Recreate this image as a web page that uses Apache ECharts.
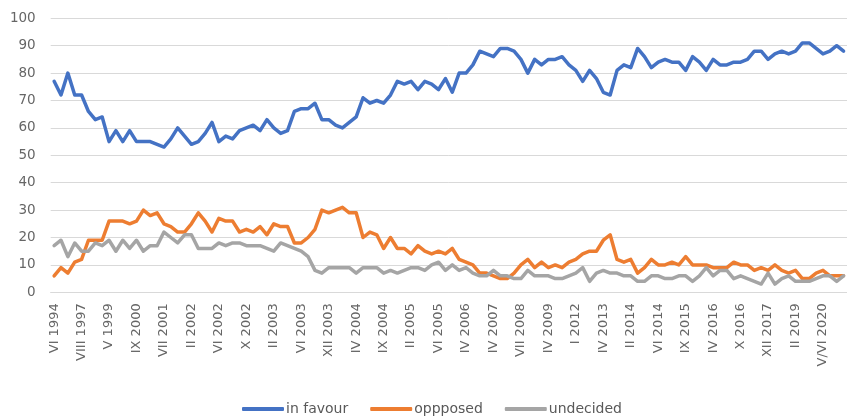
<!DOCTYPE html>
<html>
<head>
<meta charset="utf-8">
<script src="https://cdn.jsdelivr.net/npm/echarts@6/dist/echarts.min.js"></script>
<style>
html,body{margin:0;padding:0;background:#fff;}
#chart{width:847px;height:417px;}
</style>
</head>
<body>
<div id="chart"></div>
<script>
var tickLabels = ["VI 1994","VIII 1997","V 1999","IX 2000","VII 2001","II 2002","VI 2002","X 2002","II 2003",
  "VI 2003","XII 2003","IV 2004","IX 2004","II 2005","VI 2005","IV 2006","IV 2007","VII 2008","IV 2009",
  "I 2012","IV 2013","II 2014","VI 2014","IX 2015","IV 2016","X 2016","XII 2017","II 2019","V/VI 2020"];

var inFavour = [77,72,80,72,72,66,63,64,55,59,55,59,55,55,55,54,53,56,60,57,54,55,58,62,
  55,57,56,59,60,61,59,63,60,58,59,66,67,67,69,63,63,61,60,62,64,71,
  69,70,69,72,77,76,77,74,77,76,74,78,73,80,80,83,88,87,86,89,89,88,85,
  80,85,83,85,85,86,83,81,77,81,78,73,72,81,83,82,89,86,82,84,85,84,84,
  81,86,84,81,85,83,83,84,84,85,88,88,85,87,88,87,88,91,91,89,87,88,90,88];

var opposed = [6,9,7,11,12,19,19,19,26,26,26,25,26,30,28,29,25,24,22,22,25,29,26,22,
  27,26,26,22,23,22,24,21,25,24,24,18,18,20,23,30,29,30,31,29,29,20,
  22,21,16,20,16,16,14,17,15,14,15,14,16,12,11,10,7,7,6,5,5,7,10,
  12,9,11,9,10,9,11,12,14,15,15,19,21,12,11,12,7,9,12,10,10,11,10,
  13,10,10,10,9,9,9,11,10,10,8,9,8,10,8,7,8,5,5,7,8,6,6,6];

var undecided = [17,19,13,18,15,15,18,17,19,15,19,16,19,15,17,17,22,20,18,21,21,16,16,16,
  18,17,18,18,17,17,17,16,15,18,17,16,15,13,8,7,9,9,9,9,7,9,
  9,9,7,8,7,8,9,9,8,10,11,8,10,8,9,7,6,6,8,6,6,5,5,
  8,6,6,6,5,5,6,7,9,4,7,8,7,7,6,6,4,4,6,6,5,5,6,
  6,4,6,9,6,8,8,5,6,5,4,3,7,3,5,6,4,4,4,5,6,6,4,6];

var seriesNames = ["in favour","oppposed","undecided"];
var labelStep = 4;

var categories = inFavour.map(function(_, i){ return String(i); });

var chart = echarts.init(document.getElementById('chart'), null, {renderer:'canvas'});
var font = 'DejaVu Sans';
function mk(name, data, color){
  return {
    name: name, type: 'line', data: data, symbol: 'none', showSymbol: false,
    lineStyle: {width: 3.5, color: color, join: 'round', cap: 'round'},
    itemStyle: {color: color},
    animation: false
  };
}
chart.setOption({
  animation: false,
  grid: {left: 50.7, top: 18.3, bottom: 124.7, right: -6.4, containLabel: false},
  legend: {
    left: 237, top: 397, icon: 'roundRect', itemWidth: 42, itemHeight: 4, itemGap: 22,
    textStyle: {fontFamily: font, fontSize: 14, color: '#595959', padding: [0,0,0,-3]},
    data: seriesNames
  },
  xAxis: {
    type: 'category', data: categories, boundaryGap: true,
    axisLine: {show: true, lineStyle: {color: '#d9d9d9', width: 1}},
    axisTick: {show: false},
    axisLabel: {
      interval: labelStep - 1, rotate: 90, margin: 11,
      fontFamily: font, fontSize: 13, color: '#666666',
      formatter: function(v, i){ return i % labelStep === 0 ? (tickLabels[i / labelStep] || '') : ''; }
    },
    splitLine: {show: false}
  },
  yAxis: {
    type: 'value', min: 0, max: 100, interval: 10,
    axisLine: {show: false}, axisTick: {show: false},
    axisLabel: {margin: 15, fontFamily: font, fontSize: 13.5, color: '#666666'},
    splitLine: {lineStyle: {color: '#d9d9d9', width: 1}}
  },
  series: [
    mk(seriesNames[0], inFavour, '#4472C4'),
    mk(seriesNames[1], opposed, '#ED7D31'),
    mk(seriesNames[2], undecided, '#A5A5A5')
  ]
});
</script>
</body>
</html>
